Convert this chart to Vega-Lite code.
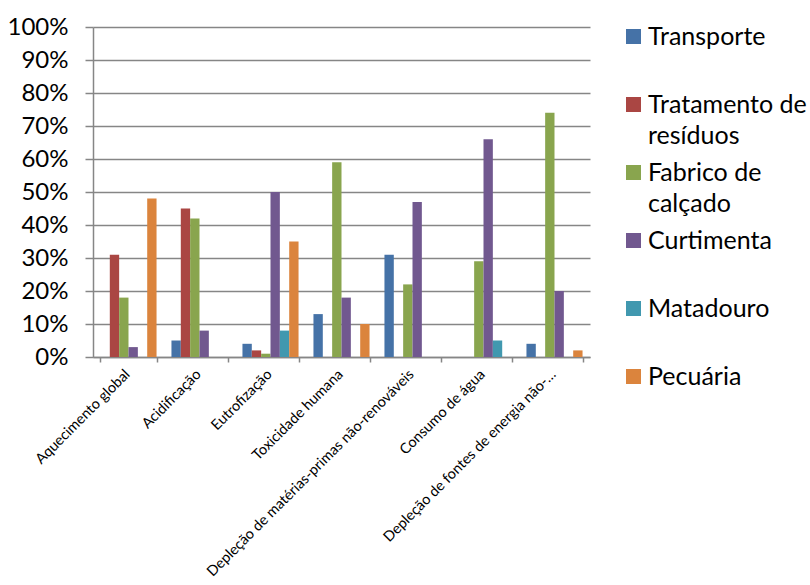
{
  "$schema": "https://vega.github.io/schema/vega-lite/v6.json",
  "autosize": {"type": "none"},
  "width": 497,
  "height": 330,
  "padding": {"left": 93, "top": 27, "right": 220, "bottom": 228},
  "background": "white",
  "config": {
    "font": "Lato",
    "view": {"stroke": null},
    "style": {"guide-label": {"lineHeight": 31}}
  },
  "data": {
    "values": [
      {"categoria": "Aquecimento global", "setor": "Transporte", "valor": 0},
      {"categoria": "Aquecimento global", "setor": "Tratamento de resíduos", "valor": 31},
      {"categoria": "Aquecimento global", "setor": "Fabrico de calçado", "valor": 18},
      {"categoria": "Aquecimento global", "setor": "Curtimenta", "valor": 3},
      {"categoria": "Aquecimento global", "setor": "Matadouro", "valor": 0},
      {"categoria": "Aquecimento global", "setor": "Pecuária", "valor": 48},
      {"categoria": "Acidificação", "setor": "Transporte", "valor": 5},
      {"categoria": "Acidificação", "setor": "Tratamento de resíduos", "valor": 45},
      {"categoria": "Acidificação", "setor": "Fabrico de calçado", "valor": 42},
      {"categoria": "Acidificação", "setor": "Curtimenta", "valor": 8},
      {"categoria": "Acidificação", "setor": "Matadouro", "valor": 0},
      {"categoria": "Acidificação", "setor": "Pecuária", "valor": 0},
      {"categoria": "Eutrofização", "setor": "Transporte", "valor": 4},
      {"categoria": "Eutrofização", "setor": "Tratamento de resíduos", "valor": 2},
      {"categoria": "Eutrofização", "setor": "Fabrico de calçado", "valor": 1},
      {"categoria": "Eutrofização", "setor": "Curtimenta", "valor": 50},
      {"categoria": "Eutrofização", "setor": "Matadouro", "valor": 8},
      {"categoria": "Eutrofização", "setor": "Pecuária", "valor": 35},
      {"categoria": "Toxicidade humana", "setor": "Transporte", "valor": 13},
      {"categoria": "Toxicidade humana", "setor": "Tratamento de resíduos", "valor": 0},
      {"categoria": "Toxicidade humana", "setor": "Fabrico de calçado", "valor": 59},
      {"categoria": "Toxicidade humana", "setor": "Curtimenta", "valor": 18},
      {"categoria": "Toxicidade humana", "setor": "Matadouro", "valor": 0},
      {"categoria": "Toxicidade humana", "setor": "Pecuária", "valor": 10},
      {"categoria": "Depleção de matérias-primas não-renováveis", "setor": "Transporte", "valor": 31},
      {"categoria": "Depleção de matérias-primas não-renováveis", "setor": "Tratamento de resíduos", "valor": 0},
      {"categoria": "Depleção de matérias-primas não-renováveis", "setor": "Fabrico de calçado", "valor": 22},
      {"categoria": "Depleção de matérias-primas não-renováveis", "setor": "Curtimenta", "valor": 47},
      {"categoria": "Depleção de matérias-primas não-renováveis", "setor": "Matadouro", "valor": 0},
      {"categoria": "Depleção de matérias-primas não-renováveis", "setor": "Pecuária", "valor": 0},
      {"categoria": "Consumo de água", "setor": "Transporte", "valor": 0},
      {"categoria": "Consumo de água", "setor": "Tratamento de resíduos", "valor": 0},
      {"categoria": "Consumo de água", "setor": "Fabrico de calçado", "valor": 29},
      {"categoria": "Consumo de água", "setor": "Curtimenta", "valor": 66},
      {"categoria": "Consumo de água", "setor": "Matadouro", "valor": 5},
      {"categoria": "Consumo de água", "setor": "Pecuária", "valor": 0},
      {"categoria": "Depleção de fontes de energia não-renováveis", "setor": "Transporte", "valor": 4},
      {"categoria": "Depleção de fontes de energia não-renováveis", "setor": "Tratamento de resíduos", "valor": 0},
      {"categoria": "Depleção de fontes de energia não-renováveis", "setor": "Fabrico de calçado", "valor": 74},
      {"categoria": "Depleção de fontes de energia não-renováveis", "setor": "Curtimenta", "valor": 20},
      {"categoria": "Depleção de fontes de energia não-renováveis", "setor": "Matadouro", "valor": 0},
      {"categoria": "Depleção de fontes de energia não-renováveis", "setor": "Pecuária", "valor": 2}
    ]
  },
  "mark": {"type": "bar"},
  "encoding": {
    "x": {
      "field": "categoria",
      "type": "nominal",
      "sort": null,
      "scale": {"paddingInner": 0.21, "paddingOuter": 0.105},
      "axis": {
        "title": null,
        "labelAngle": -45,
        "labelFontSize": 14.5,
        "labelColor": "#000000",
        "labelLimit": 400,
        "labelPadding": 5,
        "labelOffset": -6,
        "labelExpr": "datum.value == 'Depleção de fontes de energia não-renováveis' ? 'Depleção de fontes de energia não-…' : datum.value",
        "tickBand": "extent",
        "tickSize": 5,
        "tickColor": "#868686",
        "tickWidth": 1.5,
        "domainColor": "#868686",
        "domainWidth": 1.5
      }
    },
    "xOffset": {
      "field": "setor",
      "type": "nominal",
      "sort": ["Transporte", "Tratamento de resíduos", "Fabrico de calçado", "Curtimenta", "Matadouro", "Pecuária"],
      "scale": {"paddingInner": 0, "paddingOuter": 0}
    },
    "y": {
      "field": "valor",
      "type": "quantitative",
      "scale": {"domain": [0, 100], "nice": false},
      "axis": {
        "title": null,
        "values": [0, 10, 20, 30, 40, 50, 60, 70, 80, 90, 100],
        "labelExpr": "datum.value + '%'",
        "labelFontSize": 24,
        "labelColor": "#000000",
        "labelPadding": 17,
        "tickSize": 8,
        "tickColor": "#868686",
        "tickWidth": 1.5,
        "domainColor": "#868686",
        "domainWidth": 1.5,
        "grid": true,
        "gridColor": "#868686",
        "gridWidth": 1.4
      }
    },
    "color": {
      "field": "setor",
      "type": "nominal",
      "sort": ["Transporte", "Tratamento de resíduos", "Fabrico de calçado", "Curtimenta", "Matadouro", "Pecuária"],
      "scale": {
        "domain": ["Transporte", "Tratamento de resíduos", "Fabrico de calçado", "Curtimenta", "Matadouro", "Pecuária"],
        "range": ["#4572A7", "#AA4643", "#89A54E", "#71588F", "#4198AF", "#DB843D"]
      },
      "legend": {
        "title": null,
        "orient": "none",
        "legendX": 528,
        "legendY": -3,
        "symbolType": "square",
        "symbolSize": 225,
        "symbolStrokeWidth": 0,
        "symbolOpacity": 1,
        "labelFontSize": 25,
        "labelColor": "#000000",
        "labelOffset": 2,
        "labelLimit": 300,
        "labelBaseline": "middle",
        "rowPadding": 11,
        "labelExpr": "datum.label == 'Tratamento de resíduos' ? ['Tratamento de', 'resíduos'] : datum.label == 'Fabrico de calçado' ? ['Fabrico de', 'calçado'] : [datum.label, '']"
      }
    }
  }
}
